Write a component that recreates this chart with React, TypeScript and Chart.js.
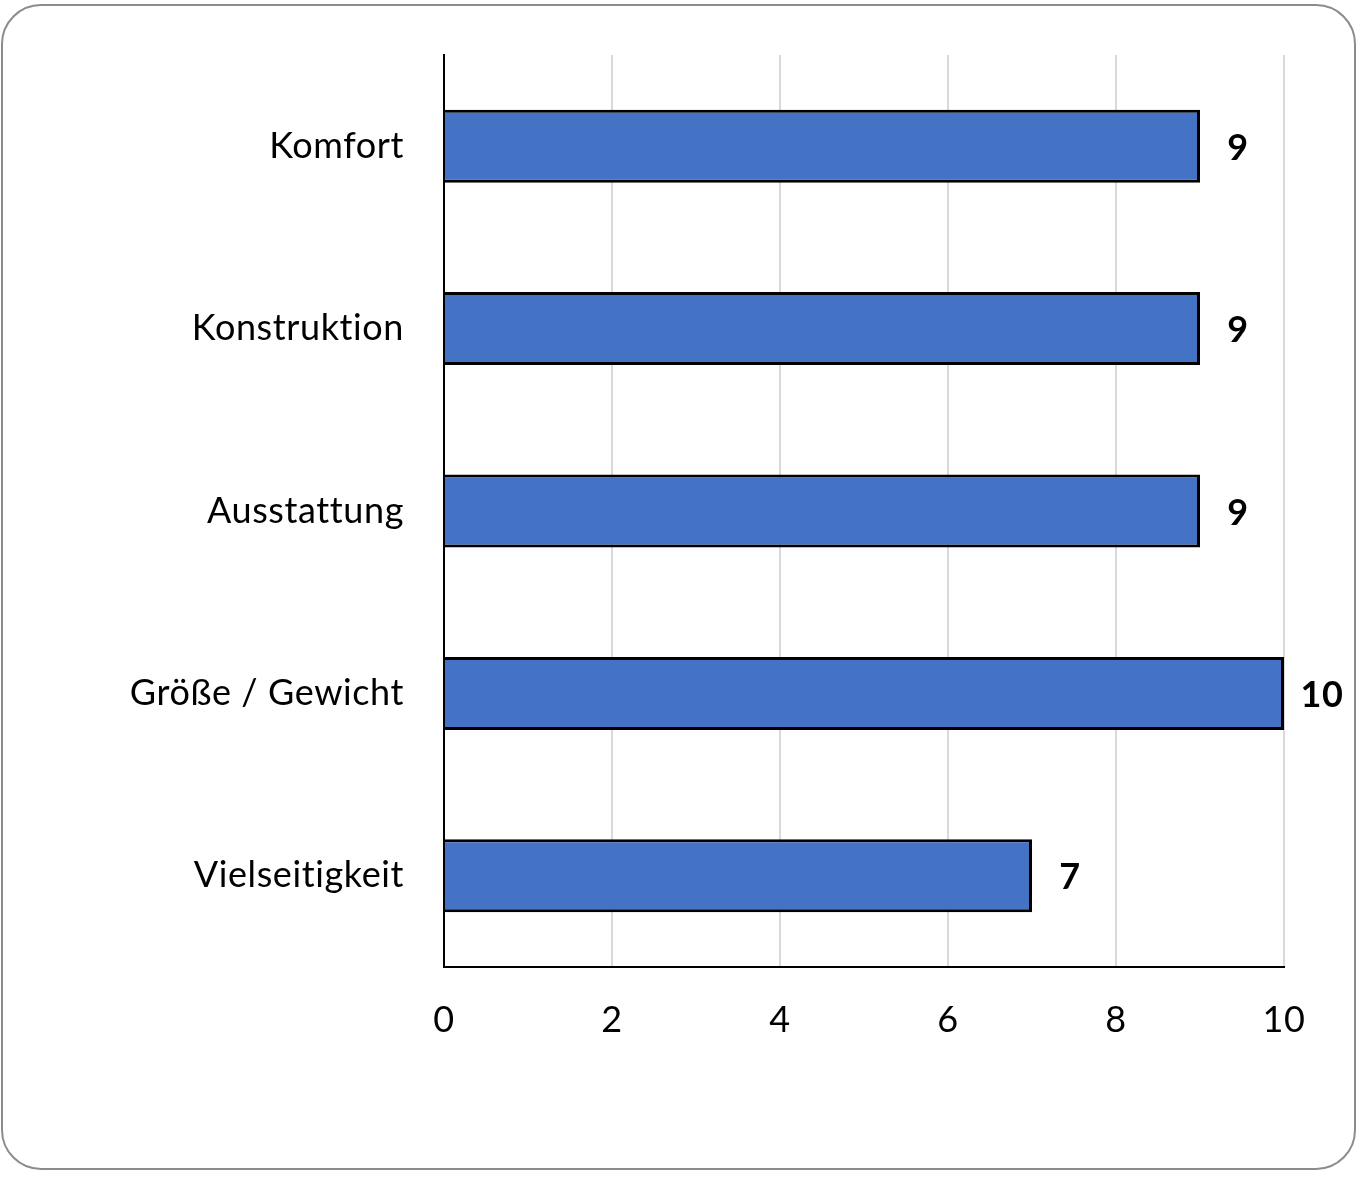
import React, { useEffect, useRef } from "react";
import { Chart, registerables } from "chart.js";

Chart.register(...registerables);

const categories = ["Komfort", "Konstruktion", "Ausstattung", "Größe / Gewicht", "Vielseitigkeit"];
const values = [9, 9, 9, 10, 7];
const xTicks = [0, 2, 4, 6, 8, 10];

const FONT = "Lato, 'Open Sans', sans-serif";
const FS = 36;

const spacing = {
  id: "spacing",
  beforeDraw(chart: any) {
    try {
      chart.ctx.letterSpacing = "0.6px";
    } catch (e) {}
  },
};

const valueLabels = {
  id: "valueLabels",
  afterDatasetsDraw(chart: any) {
    const ctx = chart.ctx;
    const meta = chart.getDatasetMeta(0);
    ctx.save();
    ctx.font = `bold ${FS}px ${FONT}`;
    ctx.fillStyle = "#000";
    ctx.textAlign = "center";
    ctx.textBaseline = "middle";
    meta.data.forEach((bar: any, i: number) => {
      ctx.fillText(String(values[i]), bar.x + 38, bar.y + 2);
    });
    ctx.restore();
  },
};

export default function App() {
  const ref = useRef<HTMLCanvasElement>(null);
  useEffect(() => {
    if (!ref.current) return;
    const chart = new Chart(ref.current, {
      type: "bar",
      data: {
        labels: categories,
        datasets: [
          {
            data: values,
            backgroundColor: "#4472C4",
            borderColor: "#000000",
            borderWidth: 3,
            barPercentage: 0.4,
            categoryPercentage: 1,
          },
        ],
      },
      options: {
        indexAxis: "y",
        animation: false,
        responsive: false,
        layout: { padding: { left: 0, top: 55, right: 77, bottom: 0 } },
        plugins: { legend: { display: false }, tooltip: { enabled: false } },
        scales: {
          x: {
            min: 0,
            max: 10,
            afterBuildTicks: (scale: any) => {
              scale.ticks = xTicks.map((v) => ({ value: v }));
            },
            afterFit: (scale: any) => {
              scale.height = 210;
              scale.paddingLeft = 0;
              scale.paddingRight = 0;
            },
            grid: { color: "#d9d9d9", lineWidth: 2, drawTicks: false },
            border: { display: true, color: "#000", width: 2 },
            ticks: {
              padding: 32,
              color: "#000",
              font: { family: FONT, size: FS },
            },
          },
          y: {
            afterFit: (scale: any) => {
              scale.width = 444;
              scale.paddingTop = 0;
              scale.paddingBottom = 0;
            },
            grid: { display: false, drawTicks: false },
            border: { display: true, color: "#000", width: 2 },
            ticks: {
              padding: 40,
              color: "#000",
              font: { family: FONT, size: FS },
            },
          },
        },
      },
      plugins: [spacing, valueLabels],
    });
    return () => chart.destroy();
  }, []);
  return (
    <div style={{ position: "absolute", left: 0, top: 0, width: 1361, height: 1177, background: "#fff" }}>
      <div
        style={{
          position: "absolute",
          left: 1,
          top: 4,
          width: 1351,
          height: 1162,
          border: "2px solid #8c8c8c",
          borderRadius: 40,
        }}
      />
      <canvas ref={ref} width={1361} height={1177} style={{ position: "absolute", left: 0, top: 0 }} />
    </div>
  );
}
